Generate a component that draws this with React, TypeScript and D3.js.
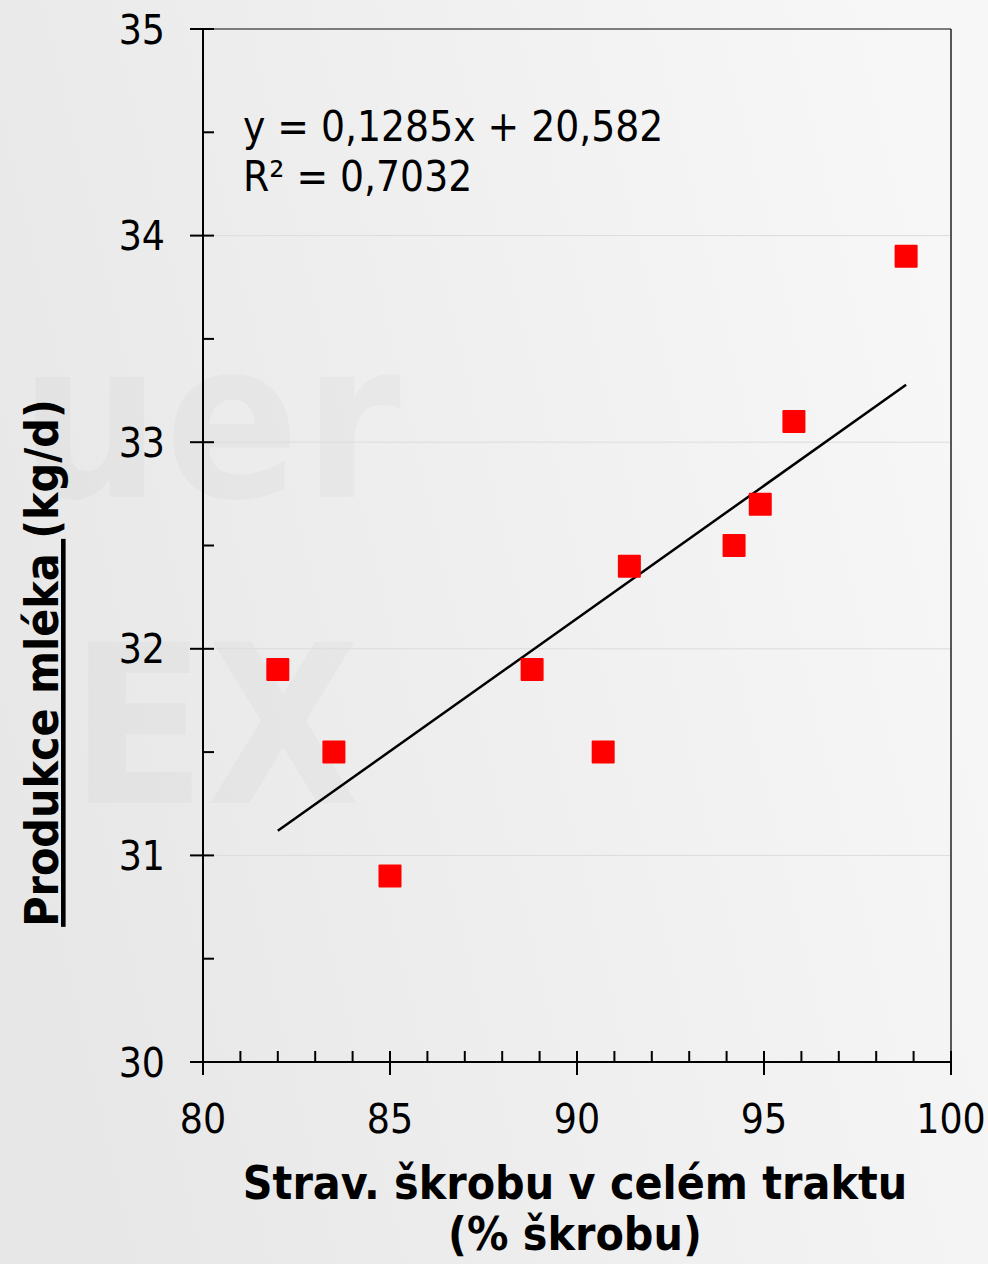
import React from "react";
import * as d3 from "d3";

// digestibility of starch (% of starch) vs milk yield (kg/d)
const starchDig = [82.0, 83.5, 85.0, 88.8, 90.7, 91.4, 94.2, 94.9, 95.8, 98.8];
const milkYield = [31.9, 31.5, 30.9, 31.9, 31.5, 32.4, 32.5, 32.7, 33.1, 33.9];

const slope = 0.1285;
const intercept = 20.582;
const eqLabel = "y = 0,1285x + 20,582";
const r2Label = "R² = 0,7032";

const xMajor = [80, 85, 90, 95, 100];
const yMajor = [30, 31, 32, 33, 34, 35];

const W = 988;
const H = 1264;
const margin = {top: 29, right: 37, bottom: 202, left: 203};
const font = "'DejaVu Sans Condensed', 'DejaVu Sans', sans-serif";

export default function App() {
    const iw = W - margin.left - margin.right;
    const ih = H - margin.top - margin.bottom;

    const x = d3.scaleLinear().domain([80, 100]).range([0, iw]);
    const y = d3.scaleLinear().domain([30, 35]).range([ih, 0]);

    const xMinor = d3.range(81, 100, 1).filter(v => v % 5 !== 0);
    const yMinor = d3.range(30.5, 35, 1);

    const x0 = d3.min(starchDig)!;
    const x1 = d3.max(starchDig)!;
    const trend = d3.line<number>()
        .x(d => x(d))
        .y(d => y(slope * d + intercept));

    const size = 23;

    return (
        <svg width={W} height={H} style={{position: "absolute", left: 0, top: 0}} fontFamily={font}>
            <defs>
                <linearGradient id="bg" x1="0" y1="0.65" x2="1" y2="0.35">
                    <stop offset="0" stopColor="#e7e7e7"/>
                    <stop offset="1" stopColor="#f7f7f7"/>
                </linearGradient>
            </defs>
            <rect width={W} height={H} fill="url(#bg)"/>

            {/* faint watermark */}
            <g fill="#000" fillOpacity={0.022} fontWeight="bold">
                <text x={20} y={497} fontSize={220} letterSpacing={4}>uer</text>
                <text x={70} y={803} fontSize={222}>EX</text>
            </g>

            <g transform={`translate(${margin.left},${margin.top})`}>
                {/* grid */}
                {yMajor.slice(1, -1).map(v => (
                    <line key={v} x1={0} x2={iw} y1={y(v)} y2={y(v)} stroke="#dcdcdc" strokeWidth={1}/>
                ))}
                {/* frame top/right */}
                <line x1={0} x2={iw} y1={0} y2={0} stroke="#555" strokeWidth={1.5}/>
                <line x1={iw} x2={iw} y1={0} y2={ih} stroke="#222" strokeWidth={1.5}/>

                {/* y axis */}
                <line x1={0} x2={0} y1={0} y2={ih} stroke="#000" strokeWidth={2}/>
                {yMajor.map(v => (
                    <g key={v}>
                        <line x1={-13} x2={11} y1={y(v)} y2={y(v)} stroke="#000" strokeWidth={2}/>
                        <text x={-38} y={y(v)} dy="0.36em" textAnchor="end" fontSize={40.5}>{v}</text>
                    </g>
                ))}
                {yMinor.map(v => (
                    <line key={v} x1={0} x2={11} y1={y(v)} y2={y(v)} stroke="#000" strokeWidth={2}/>
                ))}

                {/* x axis */}
                <line x1={0} x2={iw} y1={ih} y2={ih} stroke="#000" strokeWidth={2}/>
                {xMajor.map(v => (
                    <g key={v}>
                        <line x1={x(v)} x2={x(v)} y1={ih - 11} y2={ih + 13} stroke="#000" strokeWidth={2}/>
                        <text x={x(v)} y={ih + 71} textAnchor="middle" fontSize={40.5}>{v}</text>
                    </g>
                ))}
                {xMinor.map(v => (
                    <line key={v} x1={x(v)} x2={x(v)} y1={ih - 11} y2={ih} stroke="#000" strokeWidth={2}/>
                ))}

                {/* trendline */}
                <path d={trend([x0, x1])!} fill="none" stroke="#000" strokeWidth={2.5}/>

                {/* points */}
                {starchDig.map((v, i) => (
                    <rect key={i} x={x(v) - size / 2} y={y(milkYield[i]) - size / 2} width={size} height={size}
                          fill="#ff0000" rx={1}/>
                ))}

                {/* equation */}
                <text x={40} y={112} fontSize={42}>{eqLabel}</text>
                <text x={40} y={162} fontSize={42}>{r2Label}</text>
            </g>

            {/* axis titles */}
            <text x={575} y={1199} textAnchor="middle" fontSize={46} fontWeight="bold">
                Strav. škrobu v celém traktu
            </text>
            <text x={575} y={1250} textAnchor="middle" fontSize={46} fontWeight="bold">
                (% škrobu)
            </text>
            <text transform="translate(58,663) rotate(-90)" textAnchor="middle" fontSize={46} fontWeight="bold">
                <tspan textDecoration="underline">Produkce mléka </tspan>
                <tspan>(kg/d)</tspan>
            </text>
        </svg>
    );
}
